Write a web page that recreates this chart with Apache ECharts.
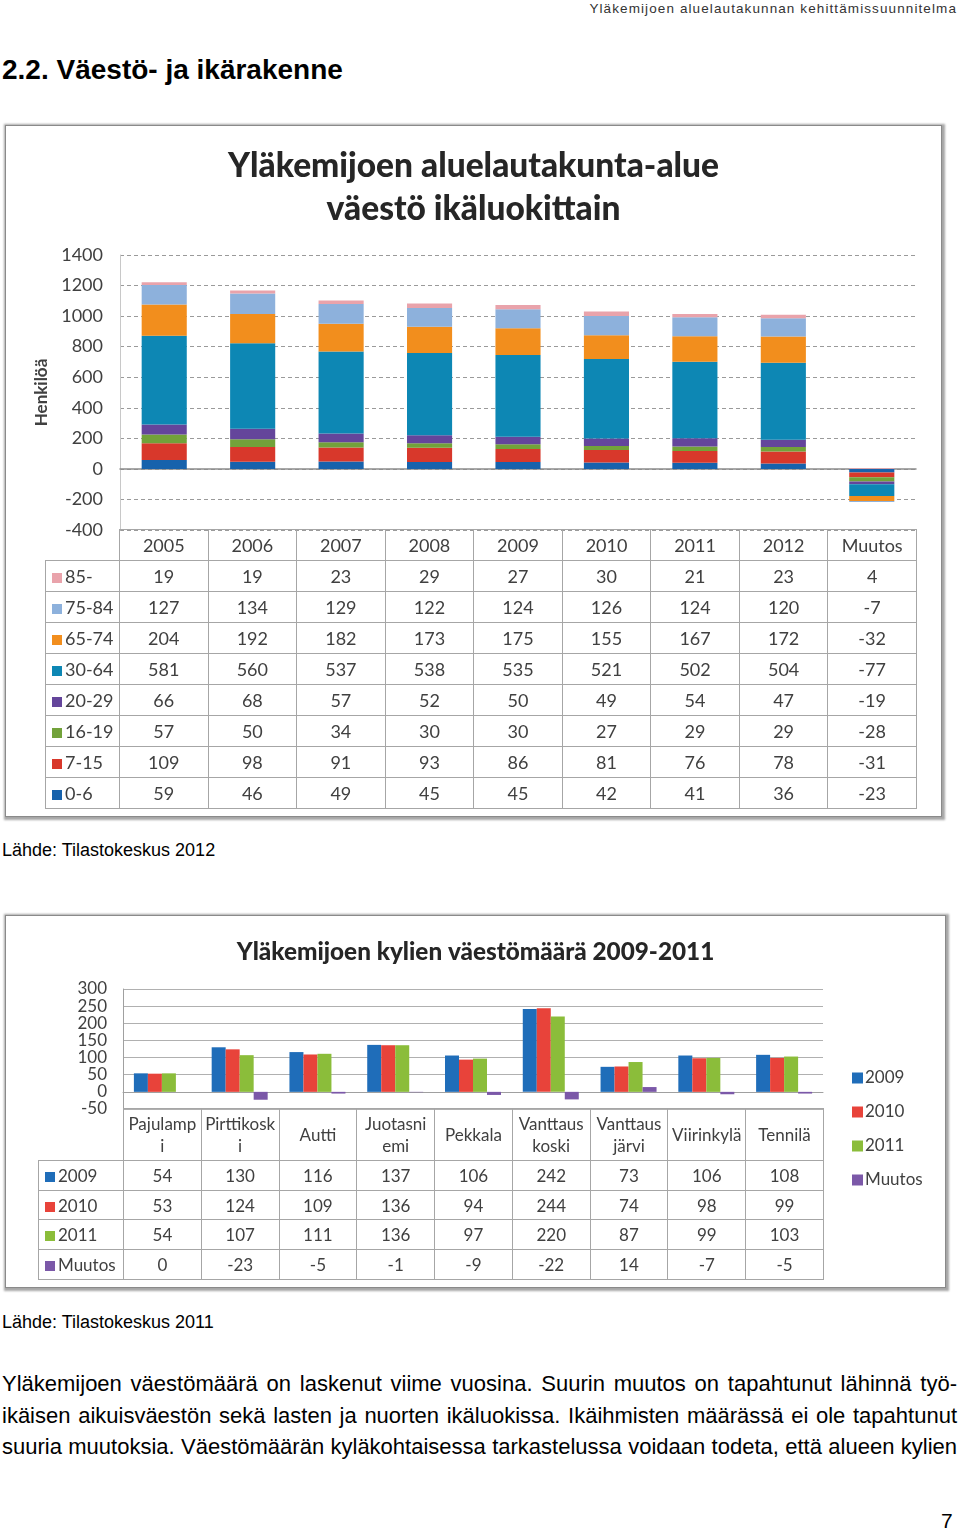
<!DOCTYPE html>
<html>
<head>
<meta charset="utf-8">
<script src="https://cdn.jsdelivr.net/npm/echarts@6/dist/echarts.min.js"></script>
<style>
  html, body { margin:0; padding:0; background:#fff; }
  body { width:960px; height:1531px; position:relative; overflow:hidden; font-family:"Liberation Sans", Arial, sans-serif; color:#000; }
  .abs { position:absolute; }
  .frame { position:absolute; background:#fff; border:1px solid #8a8a8a; box-shadow: 1px 1px 2px 2px rgba(0,0,0,0.35); box-sizing:border-box; }
  table.dt { position:absolute; border-collapse:collapse; font-family:Lato, "Open Sans", sans-serif; color:#404040; z-index:5; }
  table.dt td { border:1px solid #a6a6a6; text-align:center; padding:0; box-sizing:border-box; white-space:nowrap; }
  table.dt td.blank { border:none; }
  table.dt td.lab { text-align:left; padding-left:6px; }
  .key { display:inline-block; width:10px; height:10px; margin-right:3px; vertical-align:0px; }
  .para { position:absolute; left:2px; width:955px; font-size:22px; text-align:justify; text-align-last:justify; white-space:nowrap; }
</style>
</head>
<body>
<div class="abs" style="right:3px; top:1px; font-size:13.5px; letter-spacing:1.1px; color:#333;">Yläkemijoen aluelautakunnan kehittämissuunnitelma</div>
<div class="abs" style="left:2px; top:54px; font-size:28px; font-weight:bold;">2.2. Väestö- ja ikärakenne</div>

<div id="c1" class="frame" style="left:5px; top:125px; width:937px; height:692px;"></div>
<table id="t1" class="dt" style="left:45px; top:529px; font-size:18px;"></table>

<div class="abs" style="left:2px; top:840px; font-size:18px;">Lähde: Tilastokeskus 2012</div>

<div id="c2" class="frame" style="left:5px; top:915px; width:941px; height:373px;"></div>
<table id="t2" class="dt" style="left:38px; top:1108px; font-size:17px;"></table>

<div class="abs" style="left:2px; top:1312px; font-size:18px;">Lähde: Tilastokeskus 2011</div>

<div class="para" style="top:1371px;">Yläkemijoen väestömäärä on laskenut viime vuosina. Suurin muutos on tapahtunut lähinnä työ-</div>
<div class="para" style="top:1403px;">ikäisen aikuisväestön sekä lasten ja nuorten ikäluokissa. Ikäihmisten määrässä ei ole tapahtunut</div>
<div class="para" style="top:1434px;">suuria muutoksia. Väestömäärän kyläkohtaisessa tarkastelussa voidaan todeta, että alueen kylien</div>
<div class="abs" style="left:941px; top:1509px; font-size:21px;">7</div>

<script>
// ---------- Chart 1 data ----------
const years = ['2005','2006','2007','2008','2009','2010','2011','2012','Muutos'];
const ageGroups = ['85-','75-84','65-74','30-64','20-29','16-19','7-15','0-6'];
const age85 = [19,19,23,29,27,30,21,23,4];
const age75_84 = [127,134,129,122,124,126,124,120,-7];
const age65_74 = [204,192,182,173,175,155,167,172,-32];
const age30_64 = [581,560,537,538,535,521,502,504,-77];
const age20_29 = [66,68,57,52,50,49,54,47,-19];
const age16_19 = [57,50,34,30,30,27,29,29,-28];
const age7_15 = [109,98,91,93,86,81,76,78,-31];
const age0_6 = [59,46,49,45,45,42,41,36,-23];
const ageTicks = {min:-400, max:1400, interval:200};

// ---------- Chart 2 data ----------
const villages = ['Pajulampi','Pirttikoski','Autti','Juotasniemi','Pekkala','Vanttauskoski','Vanttausjärvi','Viirinkylä','Tennilä'];
const villageLabels = ['Pajulamp<br>i','Pirttikosk<br>i','Autti','Juotasni<br>emi','Pekkala','Vanttaus<br>koski','Vanttaus<br>järvi','Viirinkylä','Tennilä'];
const vSeriesNames = ['2009','2010','2011','Muutos'];
const v2009 = [54,130,116,137,106,242,73,106,108];
const v2010 = [53,124,109,136,94,244,74,98,99];
const v2011 = [54,107,111,136,97,220,87,99,103];
const vMuutos = [0,-23,-5,-1,-9,-22,14,-7,-5];
const villageTicks = {min:-50, max:300, interval:50};

// ---------- styles ----------
const ageColors = {'85-':'#e9a3ab','75-84':'#8db1dc','65-74':'#f28e1d','30-64':'#0d87b4','20-29':'#64459b','16-19':'#72a23a','7-15':'#d8382b','0-6':'#1762ac'};
const ageData = {'85-':age85,'75-84':age75_84,'65-74':age65_74,'30-64':age30_64,'20-29':age20_29,'16-19':age16_19,'7-15':age7_15,'0-6':age0_6};
const vColors = ['#1f6db9','#e8433a','#8bbd3a','#7b58a8'];
const vData = [v2009, v2010, v2011, vMuutos];
const FONT = 'Lato';

// ---------- Chart 1 ----------
const c1 = echarts.init(document.getElementById('c1'), null, {renderer:'canvas'});
const stackOrder = ['0-6','7-15','16-19','20-29','30-64','65-74','75-84','85-'];
c1.setOption({
  animation:false,
  textStyle:{fontFamily:FONT},
  title:{
    text:'Yläkemijoen aluelautakunta-alue\nväestö ikäluokittain',
    left:'center', top:14,
    textStyle:{fontFamily:FONT, fontSize:33.5, fontWeight:900, color:'#262626', lineHeight:43}
  },
  grid:{left:114, right:25, top:129, height:275, containLabel:false},
  xAxis:{
    type:'category', data:years,
    axisLine:{show:true, onZero:true, lineStyle:{color:'#8c8c8c', width:1.5}},
    axisTick:{show:false}, axisLabel:{show:false}, splitLine:{show:false}
  },
  yAxis:{
    type:'value', min:ageTicks.min, max:ageTicks.max, interval:ageTicks.interval,
    name:'Henkilöä', nameLocation:'middle', nameGap:61,
    nameTextStyle:{fontFamily:FONT, fontSize:17, fontWeight:'bold', color:'#404040'},
    axisLine:{show:true, lineStyle:{color:'#c8c8c8'}},
    axisTick:{show:false},
    axisLabel:{fontFamily:FONT, fontSize:18, color:'#404040', margin:17, formatter: v => String(v)},
    splitLine:{show:true, lineStyle:{color:'#9a9a9a', type:[4,3], width:1}}
  },
  series: stackOrder.map(g => ({
    name:g, type:'bar', stack:'age', data:ageData[g], barWidth:'51%',
    itemStyle:{color:ageColors[g]}
  }))
});

// Table 1
(function(){
  const t = document.getElementById('t1');
  const colW = (916-119)/9;
  let h = '<tr style="height:31px"><td class="blank" style="width:74px"></td>';
  years.forEach(y => { h += `<td style="width:${colW}px">${y}</td>`; });
  h += '</tr>';
  ageGroups.forEach(g => {
    h += `<tr style="height:31px"><td class="lab"><span class="key" style="background:${ageColors[g]}"></span>${g}</td>`;
    ageData[g].forEach(v => { h += `<td>${v}</td>`; });
    h += '</tr>';
  });
  t.innerHTML = h;
})();

// ---------- Chart 2 ----------
const c2 = echarts.init(document.getElementById('c2'), null, {renderer:'canvas'});
c2.setOption({
  animation:false,
  textStyle:{fontFamily:FONT},
  title:{
    text:'Yläkemijoen kylien väestömäärä 2009-2011',
    left:'center', top:17,
    textStyle:{fontFamily:FONT, fontSize:24.3, fontWeight:900, color:'#262626', lineHeight:28}
  },
  legend:{
    orient:'vertical', left:841, top:148, itemGap:16,
    itemWidth:11, itemHeight:11, icon:'rect',
    data:vSeriesNames,
    textStyle:{fontFamily:FONT, fontSize:17, color:'#404040', lineHeight:18, padding:[0,0,0,-3]}
  },
  grid:{left:117, right:122, top:73, height:120, containLabel:false},
  xAxis:{
    type:'category', data:villages,
    axisLine:{show:true, onZero:true, lineStyle:{color:'#a0a0a0'}},
    axisTick:{show:false}, axisLabel:{show:false}
  },
  yAxis:{
    type:'value', min:villageTicks.min, max:villageTicks.max, interval:villageTicks.interval,
    axisLine:{show:true, lineStyle:{color:'#a0a0a0'}},
    axisTick:{show:false},
    axisLabel:{fontFamily:FONT, fontSize:17, color:'#404040', margin:16, lineHeight:17},
    splitLine:{show:true, lineStyle:{color:'#b0b0b0', width:1}}
  },
  series: vSeriesNames.map((n,i) => ({
    name:n, type:'bar', data:vData[i], barGap:'0%', barCategoryGap:'28%',
    itemStyle:{color:vColors[i]}
  }))
});

// Table 2
(function(){
  const t = document.getElementById('t2');
  const colW = (823-123)/9;
  let h = '<tr style="height:52px"><td class="blank" style="width:85px"></td>';
  villageLabels.forEach(v => { h += `<td style="width:${colW}px; line-height:22px">${v}</td>`; });
  h += '</tr>';
  vSeriesNames.forEach((n,i) => {
    h += `<tr style="height:29.7px"><td class="lab"><span class="key" style="background:${vColors[i]}"></span>${n}</td>`;
    vData[i].forEach(v => { h += `<td>${v}</td>`; });
    h += '</tr>';
  });
  t.innerHTML = h;
})();
</script>
</body>
</html>
